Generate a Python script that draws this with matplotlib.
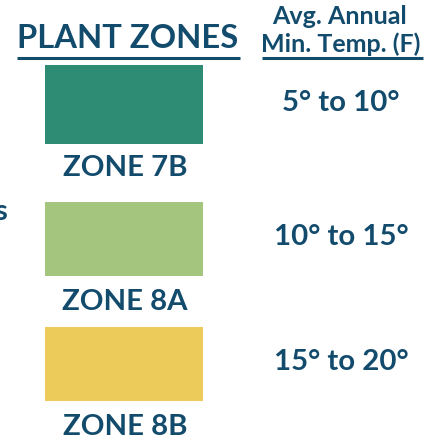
import matplotlib
matplotlib.use("Agg")
import matplotlib.pyplot as plt

# ---- data ----
zones = ["ZONE 7B", "ZONE 8A", "ZONE 8B"]
temp_ranges = ["5° to 10°", "10° to 15°", "15° to 20°"]
zone_colors = ["#2e8b74", "#a3c57d", "#eccb5b"]
title_left = "PLANT ZONES"
title_right = ["Avg. Annual", "Min. Temp. (F)"]

# ---- layout (pixels) ----
W, H = 433, 441
rect_tops = [65, 202, 327]
rect_bottoms = [144, 276, 401]
rect_x0, rect_x1 = 45, 203
label_y = [168, 302, 427]
temp_y = [103, 237, 362]
temp_x = 341
navy = "#134b6d"
font = "Lato"

fig = plt.figure(figsize=(W / 100, H / 100), dpi=100)
ax = fig.add_axes([0, 0, 1, 1])
ax.set_xlim(0, W)
ax.set_ylim(H, 0)
ax.axis("off")

cx = (rect_x0 + rect_x1) / 2
for i, z in enumerate(zones):
    ax.broken_barh([(rect_x0, rect_x1 - rect_x0)],
                   (rect_tops[i], rect_bottoms[i] - rect_tops[i]),
                   facecolors=zone_colors[i], linewidth=0)
    ax.text(cx + 1, label_y[i], z, ha="center", va="center", fontsize=21.2,
            fontweight="bold", color=navy, family=font)
    ax.text(temp_x, temp_y[i], temp_ranges[i], ha="center", va="center",
            fontsize=21.2, fontweight="bold", color=navy, family=font)

ax.text(128, 39, title_left, ha="center", va="center", fontsize=23.6,
        fontweight="bold", color=navy, family=font)
ax.text(340, 16, title_right[0], ha="center", va="center", fontsize=18,
        fontweight="bold", color=navy, family=font)
ax.text(341, 44, title_right[1], ha="center", va="center", fontsize=18,
        fontweight="bold", color=navy, family=font)
ax.plot([17, 240], [58, 58], color=navy, lw=2.2, solid_capstyle="butt")
ax.plot([262, 423], [58, 58], color=navy, lw=2.2, solid_capstyle="butt")

# clipped fragment at left edge
ax.text(7, 212, "s", ha="right", va="center", fontsize=21,
        fontweight="bold", color=navy, family=font)

fig.savefig("out.png", dpi=100)
